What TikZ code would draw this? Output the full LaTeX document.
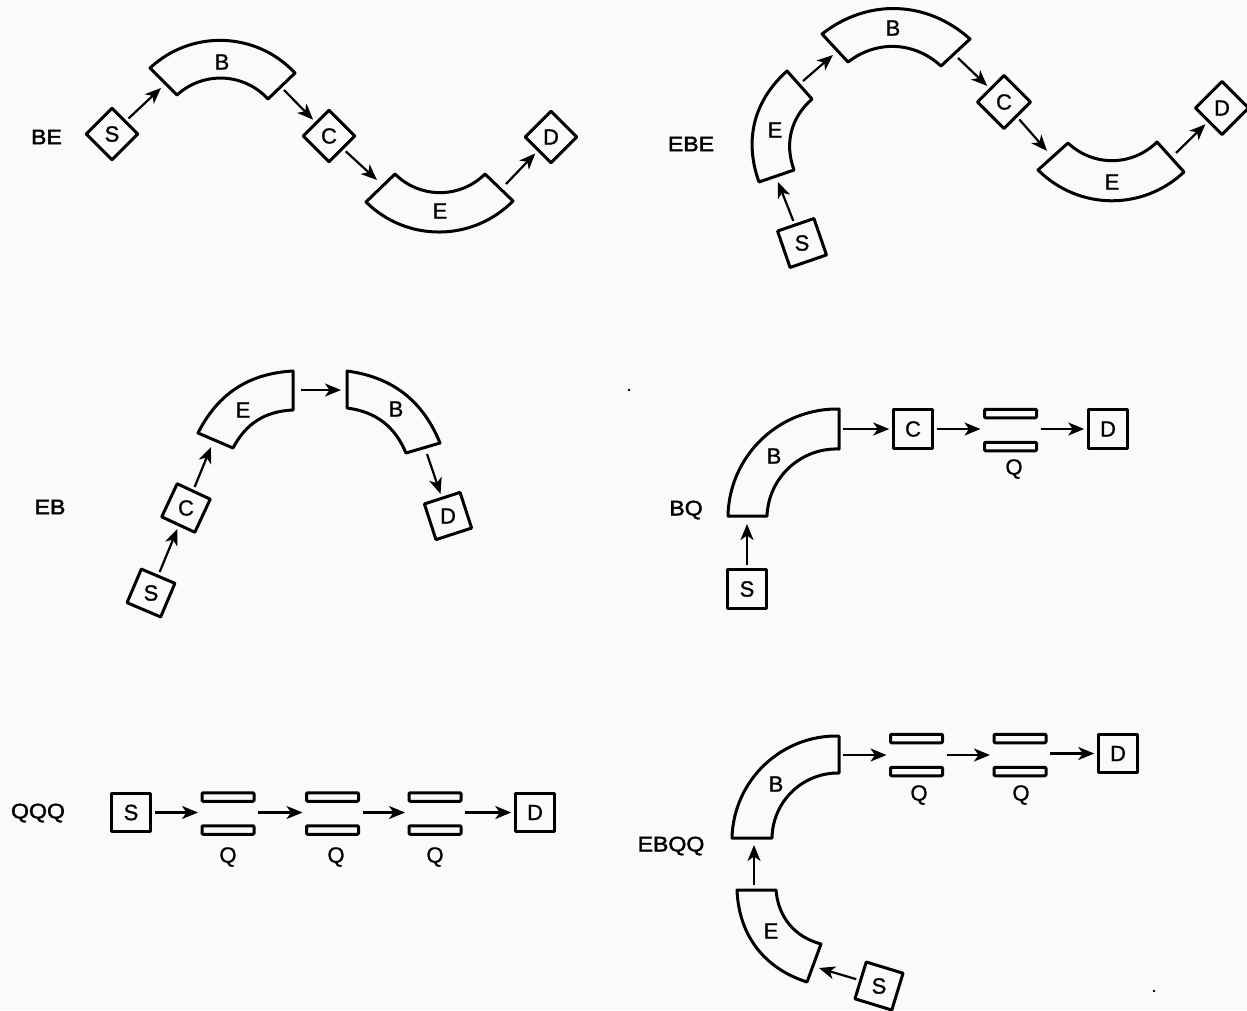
\documentclass[tikz,border=0pt]{standalone}
\usepackage{fontspec}
\setmainfont{Liberation Sans}
\newfontfamily\lblfont[FakeBold=1.0]{Liberation Sans}
\newfontfamily\cfgfont[FakeBold=2.0,FakeStretch=1.1]{Liberation Sans}
\usetikzlibrary{arrows.meta}
\definecolor{paper}{HTML}{FAFAFA}
\definecolor{ink}{HTML}{000000}
\tikzset{
  shapeline/.style={draw=ink,line width=3pt,line join=round,fill=none},
  boxnode/.style={shapeline,rectangle,minimum width=#1,minimum height=#1,inner sep=0pt,outer sep=4.5pt},
  boxnode/.default=38.5pt,
  platenode/.style={shapeline,rectangle,rounded corners=1pt,minimum width=52pt,minimum height=8.5pt,inner sep=0pt},
  pairnode/.style={rectangle,minimum width=54pt,minimum height=42pt,inner sep=0pt,outer sep=3pt},
  conn/.style={ink,line width=2.2pt,-{Stealth[length=16pt,width=13pt,inset=4.5pt]}},
  lbl/.style={text=ink,font=\lblfont\fontsize{22}{22}\selectfont,inner sep=0pt},
  cfg/.style={text=ink,font=\cfgfont\fontsize{21}{21}\selectfont,inner sep=0pt}
}
\newcommand{\sect}[6]{\draw[shapeline] (#1) to[bend #6=#5] (#2) -- (#3) to[bend #6=-#5] (#4) -- cycle;}
\newcommand{\bx}[6][38.5pt]{\node[boxnode=#1,rotate=#3] (#2) at (#4,#5) {}; \node[lbl] (#2t) at (#2) {#6};}
\newcommand{\qq}[5]{%
  \node[pairnode] (#1) at (#2,#3) {};
  \node[platenode] (#1a) at (#2,#3-16.5) {};
  \node[platenode] (#1b) at (#2,#3+16.5) {};
  \node[lbl] (#1t) at (#4,#5) {Q};}
\begin{document}
\begin{tikzpicture}[x=1pt,y=-1pt]
\fill[paper] (0,0) rectangle (1247,1010);
\useasboundingbox (0,0) rectangle (1247,1010);

% BE
\node[cfg] (nBE) at (46.5,137) {BE};
\bx[36.5pt]{a1}{45}{112}{134}{S}
\bx[36.5pt]{a2}{45}{329}{136}{C}
\bx[36.5pt]{a3}{45}{551}{137}{D}
\sect{150,68}{295,73}{268,99}{177,95}{45}{left}
\sect{366,202}{513,201}{485,174}{395,174}{45}{right}
\node[lbl] (a4) at (222,62) {B};
\node[lbl] (a5) at (440,211) {E};
\coordinate (a6) at (161,88);
\coordinate (a7) at (284,90);
\coordinate (a8) at (377,180);
\coordinate (a9) at (506,184);
\draw[conn] (a1) -- (a6);
\draw[conn] (a7) -- (a2);
\draw[conn] (a2) -- (a8);
\draw[conn] (a9) -- (a3);

% EBE
\node[cfg] (nEBE) at (691,144) {EBE};
\bx{b1}{19}{802}{243}{S}
\bx[37.5pt]{b2}{45}{1004}{102}{C}
\bx[37.5pt]{b3}{45}{1222}{108}{D}
\sect{759,182}{787,71}{812,99}{794,170}{34}{left}
\sect{822,34}{970,39}{941,66}{848,62}{40}{left}
\sect{1038,170}{1184,172}{1157,142}{1068,143}{44}{right}
\node[lbl] (b4) at (775,130) {E};
\node[lbl] (b5) at (893,28) {B};
\node[lbl] (b6) at (1112,182) {E};
\coordinate (b7) at (778,182);
\coordinate (b8) at (803,81);
\coordinate (b9) at (833,55);
\coordinate (b10) at (958,58);
\coordinate (b11) at (1047,151);
\coordinate (b12) at (1176,153);
\draw[conn] (b1) -- (b7);
\draw[conn] (b8) -- (b9);
\draw[conn] (b10) -- (b2);
\draw[conn] (b2) -- (b11);
\draw[conn] (b12) -- (b3);

% EB
\node[cfg] (nEB) at (50,507) {EB};
\bx[36.5pt]{c1}{-23}{151}{593}{S}
\bx[36.5pt]{c2}{-25}{186}{508}{C}
\bx[37.5pt]{c3}{18}{448}{516}{D}
\sect{198,433}{293,371}{293,410}{233,448}{30}{left}
\sect{347,371}{440,443}{406,453}{347,408}{30}{left}
\node[lbl] (c4) at (243,410) {E};
\node[lbl] (c5) at (396,409) {B};
\coordinate (c6) at (211,447);
\coordinate (c7) at (301,390);
\coordinate (c8) at (341,390);
\coordinate (c9) at (427,454);
\draw[conn] (c1) -- (c2);
\draw[conn] (c2) -- (c6);
\draw[conn] (c7) -- (c8);
\draw[conn] (c9) -- (c3);

% BQ
\node[cfg] (nBQ) at (686,510) {BQ};
\bx{d1}{0}{747}{589}{S}
\bx{d2}{0}{913}{429}{C}
\bx{d3}{0}{1108}{429}{D}
\sect{728,516}{839,409}{839,449}{767,516}{45}{left}
\node[lbl] (d4) at (774,456) {B};
\qq{d5}{1010.5}{430}{1014}{469}
\coordinate (d6) at (747,524);
\coordinate (d7) at (843,429);
\draw[conn] (d1) -- (d6);
\draw[conn] (d7) -- (d2);
\draw[conn] (d2) -- (d2 -| d5.west);
\draw[conn] (d5.east |- d3) -- (d3);

% QQQ
\node[cfg] (nQQQ) at (38,813) {QQQ};
\bx{e1}{0}{131}{812.5}{S}
\bx{e2}{0}{535}{812.5}{D}
\qq{e3}{228}{813.5}{228}{857}
\qq{e4}{332.5}{813.5}{336}{857}
\qq{e5}{435}{813.5}{435}{857}
\draw[conn] (e1) -- (e1 -| e3.west);
\draw[conn] (e3.east |- e1) -- (e1 -| e4.west);
\draw[conn] (e4.east |- e1) -- (e1 -| e5.west);
\draw[conn] (e5.east |- e1) -- (e2);

% EBQQ
\node[cfg] (nEBQQ) at (671,846) {EBQQ};
\bx{f1}{-17}{879}{986}{S}
\bx{f2}{0}{1118}{753.5}{D}
\sect{732,838}{839,736}{839,773}{772,838}{45}{left}
\sect{737,890}{807,982}{821,944}{776,890}{35}{right}
\node[lbl] (f3) at (776,784) {B};
\node[lbl] (f4) at (771,931) {E};
\qq{f5}{916.5}{755}{919}{795}
\qq{f6}{1020}{755}{1021}{795}
\coordinate (f7) at (819,968);
\coordinate (f8) at (754,885);
\coordinate (f9) at (754,845);
\coordinate (f10) at (843,755);
\draw[conn] (f1) -- (f7);
\draw[conn] (f8) -- (f9);
\draw[conn] (f10) -- (f5);
\draw[conn] (f5) -- (f6);
\draw[conn] (f6.east |- f2) -- (f2);

% specks
\fill[ink] (629,390) circle (1.3pt);
\fill[ink] (1154,991) circle (1.3pt);
\end{tikzpicture}
\end{document}
